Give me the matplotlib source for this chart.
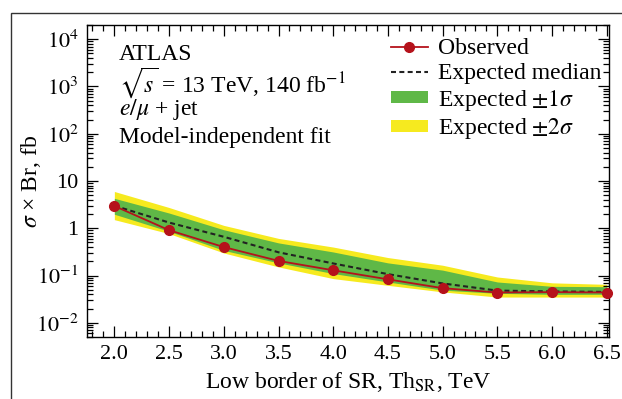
import matplotlib
matplotlib.use("Agg")
import matplotlib.pyplot as plt
from matplotlib.patches import Rectangle, Patch
from matplotlib.lines import Line2D
from matplotlib.ticker import LogLocator, MultipleLocator, FixedLocator, NullFormatter

plt.rcParams['font.family'] = ['Liberation Serif', 'DejaVu Serif']
plt.rcParams['mathtext.fontset'] = 'stix'

# ---- data ----
thresholds = [2.0, 2.5, 3.0, 3.5, 4.0, 4.5, 5.0, 5.5, 6.0, 6.5]
observed = [2.96, 0.91, 0.40, 0.204, 0.129, 0.083, 0.054, 0.0437, 0.0445, 0.0437]
expected = [3.0, 1.32, 0.66, 0.31, 0.18, 0.107, 0.068, 0.048, 0.046, 0.045]
sig1_lo = [1.98, 0.86, 0.34, 0.185, 0.11, 0.073, 0.049, 0.042, 0.040, 0.040]
sig1_hi = [4.3, 2.1, 0.93, 0.49, 0.315, 0.185, 0.13, 0.073, 0.059, 0.058]
sig2_lo = [1.52, 0.77, 0.30, 0.152, 0.086, 0.062, 0.045, 0.035, 0.035, 0.035]
sig2_hi = [6.0, 2.75, 1.15, 0.61, 0.40, 0.24, 0.165, 0.093, 0.070, 0.065]

xticks = [2.0, 2.5, 3.0, 3.5, 4.0, 4.5, 5.0, 5.5, 6.0, 6.5]
xticklabels = ["2.0", "2.5", "3.0", "3.5", "4.0", "4.5", "5.0", "5.5", "6.0", "6.5"]
yticks = [1e-2, 1e-1, 1, 10, 1e2, 1e3, 1e4]
yticklabels = [r"$10^{-2}$", r"$10^{-1}$", "1", "10", r"$10^{2}$", r"$10^{3}$", r"$10^{4}$"]

legend_labels = ["Observed", "Expected median", r"Expected $\pm1\sigma$", r"Expected $\pm2\sigma$"]
info_lines = ["ATLAS", r"$\sqrt{s}$ = 13 TeV, 140 fb$^{-1}$", r"$e/\mu$ + jet", "Model-independent fit"]

RED = "#b5121b"
GREEN = "#5fb847"
YELLOW = "#f6ea1f"
DASH = (0, (2.4, 1.6))

fig = plt.figure(figsize=(6.22, 3.99), dpi=100)
ax = fig.add_axes([87/622, 1-337/399, (609-87)/622, (337-25)/399])

# outer frame
fig.patches.append(Rectangle((11/622, -0.2), 1.2, 1 - 13/399 + 0.2, transform=fig.transFigure,
                             fill=False, edgecolor="#333333", lw=1.0, clip_on=False))

ax.fill_between(thresholds, sig2_lo, sig2_hi, color=YELLOW, lw=0, zorder=1)
ax.fill_between(thresholds, sig1_lo, sig1_hi, color=GREEN, lw=0, zorder=2)
ax.plot(thresholds, expected, color="#222222", ls=DASH, lw=1.5, zorder=3)
ax.plot(thresholds, observed, color=RED, lw=1.3, marker="o", ms=7, zorder=4, clip_on=False)

ax.set_yscale("log")
ax.set_xlim(1.75, 6.52)
ax.set_ylim(5e-3, 2e4)

ax.xaxis.set_major_locator(FixedLocator(xticks))
ax.set_xticklabels(xticklabels)
ax.xaxis.set_minor_locator(MultipleLocator(0.1))
ax.yaxis.set_major_locator(FixedLocator(yticks))
ax.set_yticklabels(yticklabels)
ax.yaxis.set_minor_locator(LogLocator(base=10, subs=range(2, 10), numticks=20))
ax.yaxis.set_minor_formatter(NullFormatter())

ax.tick_params(which="both", direction="in", top=True, right=True, labelsize=16, width=0.9, pad=6)
ax.tick_params(which="major", length=8)
ax.tick_params(which="minor", length=4)
for s in ax.spines.values():
    s.set_linewidth(1.0)

ax.set_xlabel(r"Low border of SR, Th$_{\mathrm{SR}}$, TeV", fontsize=17, labelpad=4)
ax.set_ylabel("$\\sigma$ \u00d7 Br, fb", fontsize=17)
ax.yaxis.set_label_coords(-0.085, 0.5)

y0 = 55
for i, t in enumerate(info_lines):
    fig.text(119/622, 1 - (y0 + i * 27.5)/399, t, fontsize=17, va="center", ha="left")

handles = [
    Line2D([], [], color=RED, lw=1.3, marker="o", ms=7),
    Line2D([], [], color="#222222", ls=DASH, lw=1.5),
    Patch(facecolor=GREEN, edgecolor="none"),
    Patch(facecolor=YELLOW, edgecolor="none"),
]
leg = ax.legend(handles, legend_labels, loc="upper left", bbox_to_anchor=((391 - 87)/522, 1 - (38 - 25)/312),
                frameon=False, fontsize=17, handlelength=1.55, handleheight=0.42,
                handletextpad=0.45, labelspacing=0.16, borderaxespad=0, borderpad=0)

fig.savefig("out.png", dpi=100)
